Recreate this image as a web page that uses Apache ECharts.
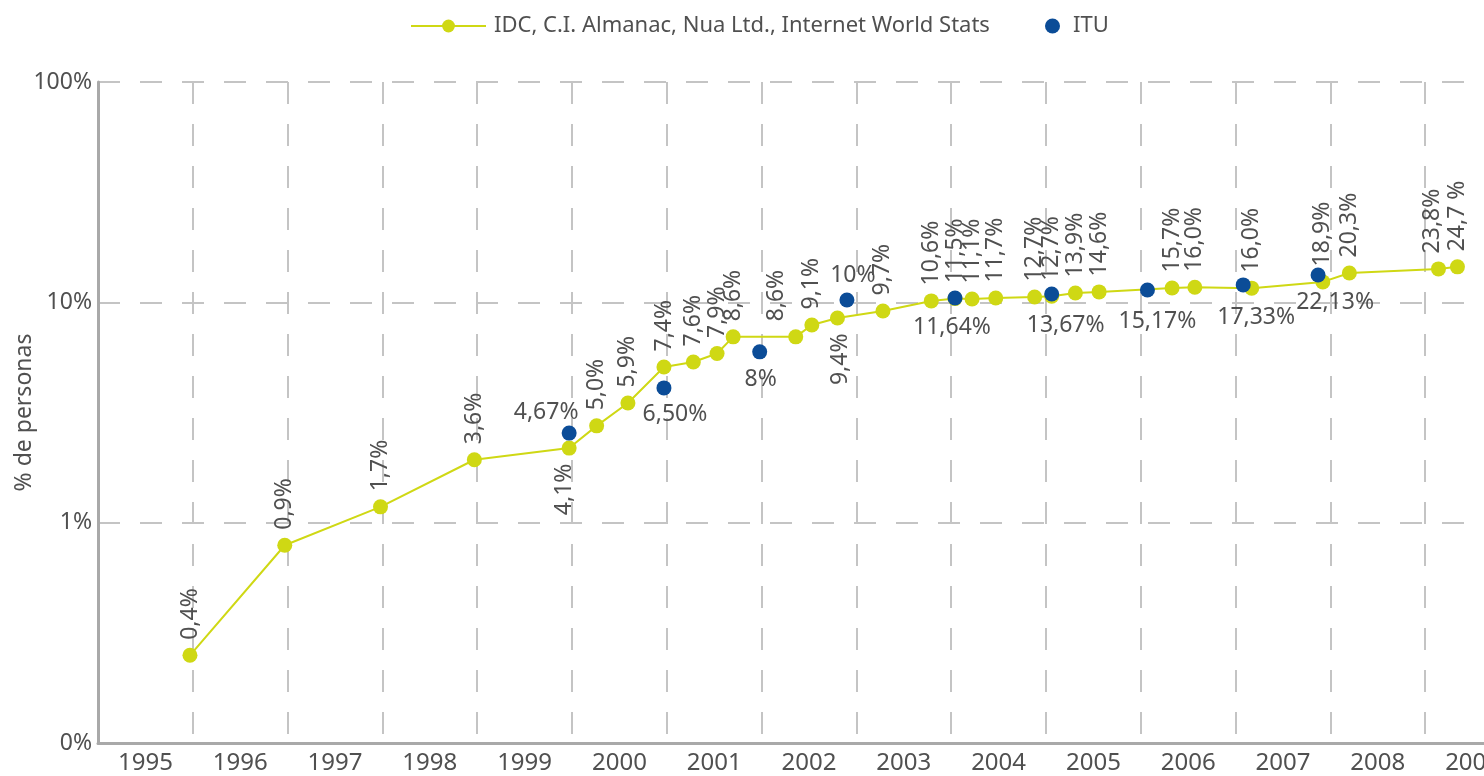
<!DOCTYPE html>
<html>
<head>
<meta charset="utf-8">
<script src="https://cdn.jsdelivr.net/npm/echarts@6/dist/echarts.min.js"></script>
<style>
  html, body { margin: 0; padding: 0; background: #fff; }
  #chart { width: 1484px; height: 776px; }
</style>
</head>
<body>
<div id="chart"></div>
<script>
// year bands on the x axis
let years = ['1995', '1996', '1997', '1998', '1999', '2000', '2001', '2002',
  '2003', '2004', '2005', '2006', '2007', '2008', '2009']

// IDC, C.I. Almanac, Nua Ltd., Internet World Stats
let idcTime = [1995.97, 1996.97, 1997.98, 1998.97, 1999.97, 2000.26, 2000.59, 2000.97,
  2001.28, 2001.53, 2001.70, 2002.36, 2002.53, 2002.80, 2003.28, 2003.79, 2004.04,
  2004.22, 2004.47, 2004.88, 2005.06, 2005.31, 2005.56, 2006.33, 2006.57, 2007.17,
  2007.92, 2008.20, 2009.14, 2009.34]
let idcValues = [0.25, 0.79, 1.18, 1.93, 2.18, 2.75, 3.49, 5.09, 5.36, 5.86, 6.97, 6.97,
  7.89, 8.49, 9.14, 10.15, 10.4, 10.36, 10.47, 10.58, 10.65, 11.03, 11.15, 11.62, 11.7,
  11.6, 12.38, 13.59, 14.18, 14.49]
let idcLabels = ['0,4%', '0,9%', '1,7%', '3,6%', '4,1%', '5,0%', '5,9%', '7,4%', '7,6%',
  '7,9%', '8,6%', '8,6%', '9,1%', '9,4%', '9,7%', '10,6%', '11,5%', '11,1%', '11,7%',
  '12,7%', '12,7%', '13,9%', '14,6%', '15,7%', '16,0%', '16,0%', '18,9%', '20,3%',
  '23,8%', '24,7 %']

// ITU
let ituTime = [1999.97, 2000.97, 2001.98, 2002.90, 2004.04, 2005.06, 2006.07, 2007.08, 2007.87]
let ituValues = [2.55, 4.09, 5.96, 10.25, 10.47, 10.91, 11.38, 12.0, 13.31]
let ituLabels = ['4,67%', '6,50%', '8%', '10%', '11,64%', '13,67%', '15,17%', '17,33%', '22,13%']

let yellow = '#cfd814'
let blue = '#0b4c97'
let textColor = '#505050'
let font = 'Noto Sans'

// label placement tweaks (pixels); the labels are rotated, so offset is [along text, across text]
let idcLabelTweak = {
  4: { position: 'bottom', align: 'right', offset: [0, -5] },
  11: { offset: [0, -19] },
  13: { position: 'bottom', align: 'right', offset: [0, 3] },
  28: { offset: [0, -6] }
}
let ituLabelOffset = [[-23, -21], [11, 27], [1, 28], [6, -25], [-3, 30], [14, 31], [10, 31], [13, 33], [17, 27]]

let idcData = idcTime.map((t, i) => {
  let item = { value: [t, idcValues[i]] }
  if (idcLabelTweak[i]) item.label = idcLabelTweak[i]
  return item
})
let ituData = ituTime.map((t, i) => {
  return { value: [t, ituValues[i]], label: { offset: ituLabelOffset[i] } }
})

let dashed = {
  color: '#c4c4c4',
  width: 2,
  type: [22, 20]
}

let option = {
  animation: false,
  textStyle: { fontFamily: font },
  legend: [{
    data: ['IDC, C.I. Almanac, Nua Ltd., Internet World Stats'],
    left: 410,
    top: 15,
    padding: 0,
    itemWidth: 75,
    itemHeight: 16,
    textStyle: { fontSize: 22, color: textColor, padding: [0, 0, 0, 3] }
  }, {
    data: ['ITU'],
    left: 1045,
    top: 15,
    padding: 0,
    itemWidth: 15,
    itemHeight: 15,
    itemStyle: { opacity: 1 },
    textStyle: { fontSize: 22, color: textColor, padding: [0, 0, 0, 8] }
  }],
  grid: {
    left: 98,
    top: 82,
    bottom: 33,
    right: -36,
    containLabel: false,
    outerBoundsMode: 'none'
  },
  xAxis: [{
    type: 'category',
    data: years,
    boundaryGap: true,
    axisLine: { onZero: false, lineStyle: { color: '#a9a9a9', width: 3 } },
    axisTick: { show: false },
    axisLabel: { color: textColor, fontSize: 24, margin: 8, interval: 0 },
    splitLine: { show: true, interval: 0, lineStyle: dashed }
  }, {
    type: 'value',
    min: 1995,
    max: 2010,
    show: false
  }],
  yAxis: {
    type: 'log',
    logBase: 10,
    min: 0.1,
    max: 100,
    name: '% de personas',
    nameLocation: 'middle',
    nameGap: 62,
    nameMoveOverlap: false,
    nameTextStyle: { color: textColor, fontSize: 23 },
    axisLine: { show: true, lineStyle: { color: '#a9a9a9', width: 3 } },
    axisTick: { show: false },
    axisLabel: {
      color: textColor,
      fontSize: 23,
      margin: 6,
      formatter: (v) => v < 0.5 ? '0%' : Math.round(v) + '%'
    },
    splitLine: { show: true, lineStyle: dashed }
  },
  series: [{
    name: 'IDC, C.I. Almanac, Nua Ltd., Internet World Stats',
    type: 'line',
    xAxisIndex: 1,
    z: 2,
    symbol: 'circle',
    symbolSize: 15,
    itemStyle: { color: yellow },
    lineStyle: { color: yellow, width: 2 },
    label: {
      show: true,
      position: 'top',
      distance: 8,
      rotate: 90,
      align: 'left',
      verticalAlign: 'middle',
      fontSize: 23,
      color: textColor,
      formatter: (p) => idcLabels[p.dataIndex]
    },
    data: idcData
  }, {
    name: 'ITU',
    type: 'scatter',
    xAxisIndex: 1,
    z: 4,
    symbol: 'circle',
    symbolSize: 15,
    itemStyle: { color: blue, opacity: 1 },
    label: {
      show: true,
      position: 'inside',
      fontSize: 23,
      color: textColor,
      formatter: (p) => ituLabels[p.dataIndex]
    },
    data: ituData
  }]
}

let myChart = echarts.init(document.getElementById('chart'))
myChart.setOption(option)
</script>
</body>
</html>
